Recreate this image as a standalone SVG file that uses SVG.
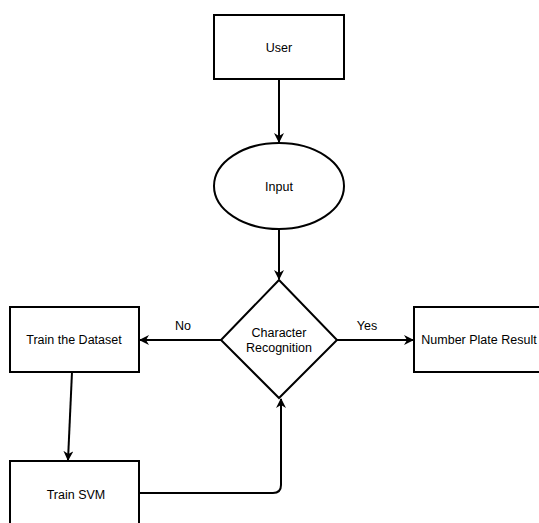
<svg xmlns="http://www.w3.org/2000/svg" width="539" height="523" viewBox="0 0 539 523">
<style>
.n{fill:#fff;stroke:#000;stroke-width:2}
.t{font-family:"Liberation Sans",Arial,sans-serif;font-size:12.5px;fill:#000;text-anchor:middle;dominant-baseline:central}
.c{fill:none;stroke:#000;stroke-width:2}
</style>
<defs>
<marker id="a" markerWidth="10" markerHeight="10" refX="9" refY="5" orient="auto" markerUnits="userSpaceOnUse">
<path d="M0,0 L10,5 L0,10 L3,5 Z" fill="#000"/>
</marker>
</defs>
<rect width="539" height="523" fill="#fff"/>
<g id="connectors">
<line class="c" x1="279" y1="79" x2="279" y2="142" marker-end="url(#a)"/>
<line class="c" x1="279" y1="229" x2="279" y2="279" marker-end="url(#a)"/>
<line class="c" x1="221" y1="340" x2="140" y2="340" marker-end="url(#a)"/>
<line class="c" x1="337" y1="340" x2="413" y2="340" marker-end="url(#a)"/>
<line class="c" x1="72" y1="372" x2="68" y2="460" marker-end="url(#a)"/>
<path class="c" d="M139,493 L273,493 Q281,493 281,485 L281,399" marker-end="url(#a)"/>
<text class="t" x="183" y="326">No</text>
<text class="t" x="367" y="326">Yes</text>
</g>
<g id="user">
<rect class="n" x="214" y="15" width="130" height="64"/>
<text class="t" x="279" y="48">User</text>
</g>
<g id="input">
<ellipse class="n" cx="279" cy="186" rx="65" ry="43"/>
<text class="t" x="279" y="187">Input</text>
</g>
<g id="recognition">
<polygon class="n" points="279,280 337,340 279,398 221,340"/>
<text class="t" x="279" y="333">Character</text>
<text class="t" x="279" y="348">Recognition</text>
</g>
<g id="train-dataset">
<rect class="n" x="10" y="307" width="129" height="65"/>
<text class="t" x="74" y="340">Train the Dataset</text>
</g>
<g id="number-plate">
<rect class="n" x="414" y="307" width="130" height="65"/>
<text class="t" x="479" y="340">Number Plate Result</text>
</g>
<g id="train-svm">
<rect class="n" x="10" y="461" width="129" height="65"/>
<text class="t" x="76" y="495">Train SVM</text>
</g>
</svg>
